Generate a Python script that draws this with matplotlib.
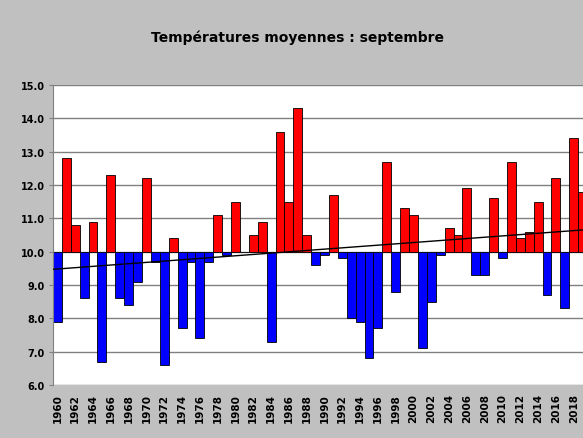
import numpy as np
import matplotlib; matplotlib.use("Agg")
import matplotlib.pyplot as plt

# September mean temperatures
years = list(range(1960, 2020))
temps = [7.9, 12.8, 10.8, 8.6, 10.9, 6.7, 12.3, 8.6, 8.4, 9.1,
         12.2, 9.7, 6.6, 10.4, 7.7, 9.7, 7.4, 9.7, 11.1, 9.9,
         11.5, 10.0, 10.5, 10.9, 7.3, 13.6, 11.5, 14.3, 10.5, 9.6,
         9.9, 11.7, 9.8, 8.0, 7.9, 6.8, 7.7, 12.7, 8.8, 11.3,
         11.1, 7.1, 8.5, 9.9, 10.7, 10.5, 11.9, 9.3, 9.3, 11.6,
         9.8, 12.7, 10.4, 10.6, 11.5, 8.7, 12.2, 8.3, 13.4, 11.8]
base = 10.0
yticks = [6, 7, 8, 9, 10, 11, 12, 13, 14, 15]
title = "Températures moyennes : septembre"

x = np.array(years)
t = np.array(temps)
cols = ["#ff0000" if v >= base else "#0000ff" for v in t]

fig = plt.figure(figsize=(5.83, 4.39), dpi=100, facecolor="#c0c0c0")
ax = fig.add_axes([0.0909, 0.1207, 0.916, 0.683])
ax.set_facecolor("white")

for yv in yticks:
    ax.axhline(yv, color="#808080", lw=1.0, zorder=1)

ax.bar(x, t - base, bottom=base, width=1.0, color=cols,
       edgecolor="black", linewidth=0.6, zorder=2)

# linear trend
k, b = np.polyfit(x, t, 1)
xl = np.array([x[0] - 0.5, x[-1] + 0.5])
ax.plot(xl, k * xl + b, color="black", lw=1.0, zorder=3)

ax.set_xlim(x[0] - 0.5, x[-1] + 0.5)
ax.set_ylim(6, 15)
ax.set_yticks(yticks)
ax.set_yticklabels([f"{v:.1f}" for v in yticks], fontsize=7, fontweight="bold")
ax.set_xticks(x[::2])
ax.set_xticklabels([str(y) for y in x[::2]], rotation=90, fontsize=7.5,
                   fontweight="bold")
ax.tick_params(axis="x", length=0, pad=6)
ax.tick_params(axis="y", length=3, color="#808080", pad=3)
for s in ["top", "right", "bottom"]:
    ax.spines[s].set_visible(False)
ax.spines["left"].set_color("#808080")

fig.text(0.511, 0.913, title, ha="center", va="center", fontsize=10,
         fontweight="bold")

fig.savefig("out.png", dpi=100, facecolor=fig.get_facecolor())
